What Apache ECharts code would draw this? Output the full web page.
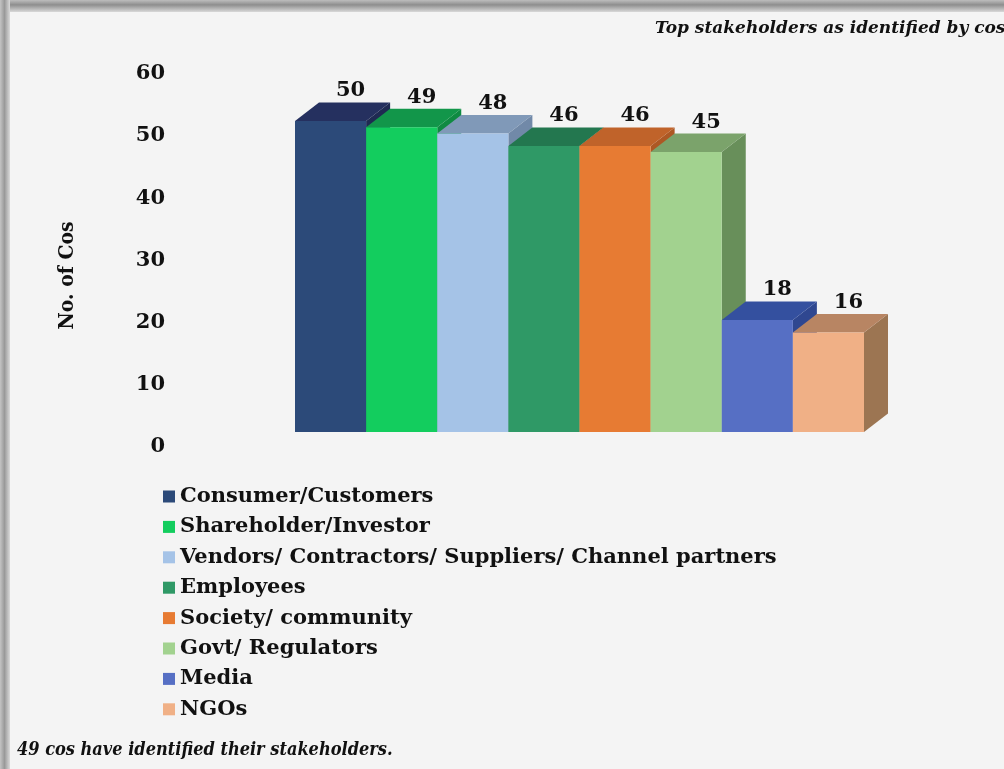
<!DOCTYPE html>
<html>
<head>
<meta charset="utf-8">
<script src="https://cdn.jsdelivr.net/npm/echarts@6/dist/echarts.min.js"></script>
<style>
  html, body { margin: 0; padding: 0; background: #f4f4f4; }
  #chart { width: 1004px; height: 769px; }
</style>
</head>
<body>
<div id="chart"></div>
<script>
// Stakeholder groups and how many companies named each one
const categories = [
  'Consumer/Customers',
  'Shareholder/Investor',
  'Vendors/ Contractors/ Suppliers/ Channel partners',
  'Employees',
  'Society/ community',
  'Govt/ Regulators',
  'Media',
  'NGOs'
];
const counts = [50, 49, 48, 46, 46, 45, 18, 16];
const yTicks = [0, 10, 20, 30, 40, 50, 60];

// Face shades for each prism: front, top and right side
const frontColors = ['#2c4a79', '#13cd5e', '#a5c3e7', '#2f9966', '#e77b33', '#a2d28f', '#566fc4', '#f0b086'];
const topColors   = ['#25305f', '#12964a', '#8099b8', '#23774f', '#c0632a', '#7ba36b', '#34509f', '#b88563'];
const sideColors  = ['#1f2a52', '#0f8a42', '#7189a8', '#1f6b47', '#ad5824', '#688f5a', '#2f4790', '#9c7552'];

const SERIF = '"DejaVu Serif", serif';
const SERIF_NARROW = '"DejaVu Serif Condensed", "DejaVu Serif", serif';
const DEPTH_X = 24;
const DEPTH_Y = 18.5;

function prismRenderer(idx) {
  return function (params, api) {
    const cat = api.value(0);
    const val = api.value(1);
    const top = api.coord([cat, val]);
    const base = api.coord([cat, 0]);
    const w = api.size([1, 0])[0];
    const x0 = top[0] - w / 2;
    const x1 = top[0] + w / 2;
    const yT = top[1];
    const yB = base[1];
    return {
      type: 'group',
      children: [
        {
          type: 'polygon',
          shape: { points: [[x1, yT], [x1 + DEPTH_X, yT - DEPTH_Y], [x1 + DEPTH_X, yB - DEPTH_Y], [x1, yB]] },
          style: { fill: sideColors[idx] }
        },
        {
          type: 'polygon',
          shape: { points: [[x0, yT], [x0 + DEPTH_X, yT - DEPTH_Y], [x1 + DEPTH_X, yT - DEPTH_Y], [x1, yT]] },
          style: { fill: topColors[idx] }
        },
        {
          type: 'rect',
          shape: { x: x0, y: yT, width: w, height: yB - yT },
          style: { fill: frontColors[idx] }
        },
        {
          type: 'text',
          style: {
            text: String(val),
            x: top[0] + 20,
            y: yT - 30,
            align: 'center',
            verticalAlign: 'middle',
            fill: '#111',
            font: 'bold 21px ' + SERIF
          }
        }
      ]
    };
  };
}

const series = categories.map(function (name, i) {
  return {
    name: name,
    type: 'custom',
    xAxisIndex: 0,
    yAxisIndex: 0,
    itemStyle: { color: frontColors[i] },
    renderItem: prismRenderer(i),
    data: [[i, counts[i]]]
  };
});

const chart = echarts.init(document.getElementById('chart'));
chart.setOption({
  backgroundColor: '#f4f4f4',
  animation: false,
  title: [
    {
      text: 'Top stakeholders as identified by cos',
      left: 655,
      top: 20,
      padding: 0,
      textStyle: { fontFamily: SERIF, fontStyle: 'italic', fontWeight: 'bold', fontSize: 17, color: '#111' }
    },
    {
      text: '49 cos have identified their stakeholders.',
      left: 17,
      top: 741,
      padding: 0,
      textStyle: { fontFamily: SERIF_NARROW, fontStyle: 'italic', fontWeight: 'bold', fontSize: 18, color: '#111' }
    }
  ],
  graphic: [
    {
      type: 'rect', z: -10,
      shape: { x: 0, y: 0, width: 1004, height: 12 },
      style: { fill: new echarts.graphic.LinearGradient(0, 0, 0, 1, [
        { offset: 0, color: '#bdbdbd' }, { offset: 0.4, color: '#8e8e8e' }, { offset: 1, color: '#d8d8d8' }
      ]) }
    },
    {
      type: 'rect', z: -10,
      shape: { x: 0, y: 0, width: 10, height: 769 },
      style: { fill: new echarts.graphic.LinearGradient(0, 0, 1, 0, [
        { offset: 0, color: '#c4c4c4' }, { offset: 0.45, color: '#999999' }, { offset: 1, color: '#dadada' }
      ]) }
    }
  ],
  legend: {
    data: categories,
    orient: 'vertical',
    left: 163,
    top: 486,
    padding: 0,
    icon: 'rect',
    itemWidth: 12,
    itemHeight: 12,
    itemGap: 9.4,
    selectedMode: false,
    textStyle: { fontFamily: SERIF, fontWeight: 'bold', fontSize: 21, lineHeight: 21, color: '#111' }
  },
  grid: [
    { left: 295, right: 140, top: 58.8, bottom: 337 },
    { left: 175, width: 100, top: 73.8, bottom: 322 }
  ],
  xAxis: [
    { type: 'category', gridIndex: 0, data: categories, show: false },
    { type: 'category', gridIndex: 1, data: categories, show: false }
  ],
  yAxis: [
    {
      type: 'value', gridIndex: 0,
      min: yTicks[0], max: yTicks[yTicks.length - 1], interval: yTicks[1] - yTicks[0],
      show: false
    },
    {
      type: 'value', gridIndex: 1,
      min: yTicks[0], max: yTicks[yTicks.length - 1], interval: yTicks[1] - yTicks[0],
      name: 'No. of Cos',
      nameLocation: 'middle',
      nameRotate: 90,
      nameGap: 97,
      nameTextStyle: { fontFamily: SERIF_NARROW, fontWeight: 'bold', fontSize: 21, color: '#111', padding: [0, 30, 0, 0] },
      axisLine: { show: false },
      axisTick: { show: false },
      splitLine: { show: false },
      axisLabel: { margin: 10, fontFamily: SERIF, fontWeight: 'bold', fontSize: 21, color: '#111' }
    }
  ],
  series: series
});
</script>
</body>
</html>
